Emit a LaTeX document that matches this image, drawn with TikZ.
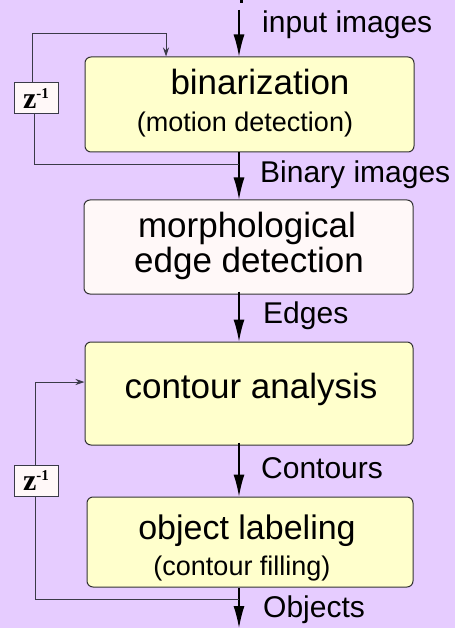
\documentclass[tikz,border=0pt]{standalone}
\usepackage{fontspec}
\setmainfont{Liberation Sans}
\newfontfamily\zfont{Liberation Serif}
\usetikzlibrary{arrows.meta}
\definecolor{bgcol}{HTML}{E6CCFF}
\definecolor{boxyellow}{HTML}{FFFFCC}
\definecolor{boxpink}{HTML}{FFF8F8}
\definecolor{edgecol}{HTML}{333333}
\definecolor{fbcol}{HTML}{3A3A48}
\begin{document}
\begin{tikzpicture}[x=1pt,y=-1pt,
  procbox/.style={draw=edgecol,line width=1pt,rounded corners=6pt,inner sep=0pt},
  zbox/.style={draw=fbcol,line width=1pt,fill=boxpink,minimum width=44pt,minimum height=31pt,inner sep=0pt},
  bigtxt/.style={anchor=base,inner sep=0pt,font=\fontsize{35}{40}\selectfont},
  smalltxt/.style={anchor=base,inner sep=0pt,font=\fontsize{27}{30}\selectfont},
  lbl/.style={anchor=base west,inner sep=0pt,font=\fontsize{30}{34}\selectfont},
  mainarrow/.style={line width=1.3pt,black,-{Latex[length=22pt,width=11pt]}},
  fbline/.style={line width=1pt,fbcol},
  fbarrow/.style={line width=1pt,fbcol,-{Stealth[length=9pt,width=6pt,inset=3pt]}}
  ]
\fill[bgcol] (0,0) rectangle (455,628);
\useasboundingbox (0,0) rectangle (455,628);
% boxes
\node[procbox,fill=boxyellow,minimum width=329pt,minimum height=95pt] (b1) at (249.5,104.5) {};
\node[procbox,fill=boxpink,minimum width=329pt,minimum height=94pt] (b2) at (248.5,247) {};
\node[procbox,fill=boxyellow,minimum width=328pt,minimum height=103pt] (b3) at (249,393.5) {};
\node[procbox,fill=boxyellow,minimum width=326pt,minimum height=90pt] (b4) at (250,542) {};
% texts
\node[bigtxt] (t1) at (260,95) {binarization};
\node[smalltxt] (t1b) at (245,132) {(motion detection)};
\node[bigtxt] (t2) at (247,237) {morphological};
\node[bigtxt] (t2b) at (249,272) {edge detection};
\node[bigtxt] (t3) at (251,398) {contour analysis};
\node[bigtxt,font=\fontsize{34}{38}\selectfont] (t4) at (247,539) {object labeling};
\node[smalltxt] (t4b) at (242,575) {(contour filling)};
% labels
\node[lbl] (l0) at (262,33) {input images};
\node[lbl] (l1) at (260,183) {Binary images};
\node[lbl] (l2) at (263,323) {Edges};
\node[lbl] (l3) at (261,478) {Contours};
\node[lbl] (l4) at (263,617) {Objects};
% delay boxes
\node[zbox] (z1) at (36,98.5) {\zfont\bfseries\fontsize{30}{30}\selectfont z\raisebox{10pt}{\fontsize{15}{15}\selectfont -1}};
\node[zbox] (z2) at (36,480.5) {\zfont\bfseries\fontsize{30}{30}\selectfont z\raisebox{10pt}{\fontsize{15}{15}\selectfont -1}};
% main flow
\coordinate (in) at (239,10);
\coordinate (out) at (239,628);
\fill[black] (240,0) rectangle (243,3);
\draw[mainarrow] (in) -- (in |- b1.north);
\draw[mainarrow] (b1.south -| in) -- (b2.north -| in);
\draw[mainarrow] ([yshift=3pt]b2.south -| in) -- (b3.north -| in);
\draw[mainarrow] ([yshift=3pt]b3.south -| in) -- (b4.north -| in);
\draw[mainarrow] (b4.south -| in) -- (out);
% feedback 1
\coordinate (f1a) at (32,34);
\coordinate (f1b) at (166,34);
\coordinate (f1c) at (34,165);
\coordinate (f1d) at (239,165);
\draw[fbarrow] (z1.north -| f1a) -- (f1a) -- (f1b) -- (f1b |- b1.north);
\draw[fbline] (z1.south -| f1c) -- (f1c) -- (f1d);
% feedback 2
\coordinate (f2a) at (35,382);
\coordinate (f2c) at (35,599);
\coordinate (f2d) at (239,599);
\draw[fbarrow] (z2.north -| f2a) -- (f2a) -- (f2a -| b3.west);
\draw[fbline] (z2.south -| f2c) -- (f2c) -- (f2d);
\end{tikzpicture}
\end{document}
